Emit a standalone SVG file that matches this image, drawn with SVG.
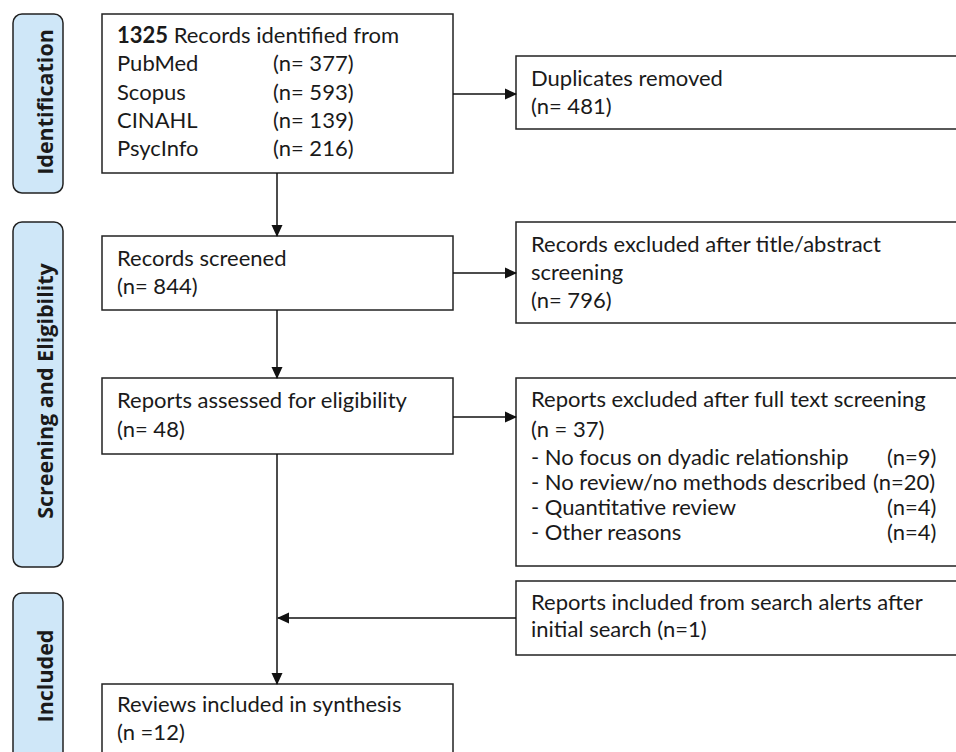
<svg xmlns="http://www.w3.org/2000/svg" width="956" height="752" viewBox="0 0 956 752">
<defs>
<marker id="ah" markerWidth="12" markerHeight="12" refX="11" refY="6" orient="auto" markerUnits="userSpaceOnUse">
<path d="M0,0.5 L12,6 L0,11.5 Z" fill="#111"/>
</marker>
<style>
.box{fill:#fff;stroke:#222;stroke-width:1.5}
.lab{fill:#cfe7f8;stroke:#222;stroke-width:1.5}
.t{font-family:Lato,"Open Sans","Liberation Sans",sans-serif;font-size:22px;fill:#1a1a1a}
.lt{font-family:"Open Sans","Liberation Sans",sans-serif;font-size:21.5px;font-weight:bold;fill:#1a1a1a}
.c{stroke:#111;stroke-width:1.5;fill:none}
</style>
</defs>
<rect width="956" height="752" fill="#fff"/>
<g id="label-identification">
<rect class="lab" x="13" y="14" width="50" height="179" rx="9"/>
<text class="lt" transform="translate(53,102) rotate(-90)" text-anchor="middle">Identification</text>
</g>
<g id="label-screening">
<rect class="lab" x="13" y="222" width="50" height="345" rx="9"/>
<text class="lt" transform="translate(53,391) rotate(-90)" text-anchor="middle">Screening and Eligibility</text>
</g>
<g id="label-included">
<rect class="lab" x="13" y="593" width="50" height="180" rx="9"/>
<text class="lt" transform="translate(53,676) rotate(-90)" text-anchor="middle">Included</text>
</g>
<g id="identified">
<rect class="box" x="102" y="14" width="351" height="159"/>
<text class="t" x="117" y="43"><tspan font-weight="bold">1325</tspan> Records identified from</text>
<text class="t" x="117" y="71">PubMed</text><text class="t" x="273" y="71">(n= 377)</text>
<text class="t" x="117" y="100">Scopus</text><text class="t" x="273" y="100">(n= 593)</text>
<text class="t" x="117" y="128">CINAHL</text><text class="t" x="273" y="128">(n= 139)</text>
<text class="t" x="117" y="156">PsycInfo</text><text class="t" x="273" y="156">(n= 216)</text>
</g>
<g id="duplicates">
<rect class="box" x="516" y="56" width="460" height="73"/>
<text class="t" x="531" y="86">Duplicates removed</text>
<text class="t" x="531" y="114">(n= 481)</text>
</g>
<g id="screened">
<rect class="box" x="102" y="236" width="351" height="74"/>
<text class="t" x="117" y="266">Records screened</text>
<text class="t" x="117" y="294">(n= 844)</text>
</g>
<g id="excluded-title">
<rect class="box" x="516" y="222" width="460" height="101"/>
<text class="t" x="531" y="252">Records excluded after title/abstract</text>
<text class="t" x="531" y="280">screening</text>
<text class="t" x="531" y="308">(n= 796)</text>
</g>
<g id="assessed">
<rect class="box" x="102" y="378" width="351" height="76"/>
<text class="t" x="117" y="408">Reports assessed for eligibility</text>
<text class="t" x="117" y="437">(n= 48)</text>
</g>
<g id="excluded-full">
<rect class="box" x="516" y="378" width="460" height="188"/>
<text class="t" x="531" y="407">Reports excluded after full text screening</text>
<text class="t" x="531" y="437">(n =  37)</text>
<text class="t" x="531" y="465">- No focus on dyadic relationship</text><text class="t" x="887" y="465">(n=9)</text>
<text class="t" x="531" y="490">- No review/no methods described</text><text class="t" x="873" y="490">(n=20)</text>
<text class="t" x="531" y="515">- Quantitative review</text><text class="t" x="887" y="515">(n=4)</text>
<text class="t" x="531" y="540">- Other reasons</text><text class="t" x="887" y="540">(n=4)</text>
</g>
<g id="alerts">
<rect class="box" x="516" y="581" width="460" height="74"/>
<text class="t" x="531" y="610">Reports included from search alerts after</text>
<text class="t" x="531" y="637">initial search (n=1)</text>
</g>
<g id="included">
<rect class="box" x="102" y="684" width="351" height="90"/>
<text class="t" x="117" y="712">Reviews included in synthesis</text>
<text class="t" x="117" y="740">(n =12)</text>
</g>
<g id="connectors">
<line class="c" x1="277" y1="173" x2="277" y2="236" marker-end="url(#ah)"/>
<line class="c" x1="453" y1="94" x2="516" y2="94" marker-end="url(#ah)"/>
<line class="c" x1="277" y1="310" x2="277" y2="378" marker-end="url(#ah)"/>
<line class="c" x1="453" y1="273" x2="516" y2="273" marker-end="url(#ah)"/>
<line class="c" x1="453" y1="417" x2="516" y2="417" marker-end="url(#ah)"/>
<line class="c" x1="277" y1="454" x2="277" y2="684" marker-end="url(#ah)"/>
<line class="c" x1="516" y1="618" x2="278" y2="618" marker-end="url(#ah)"/>
</g>
</svg>
